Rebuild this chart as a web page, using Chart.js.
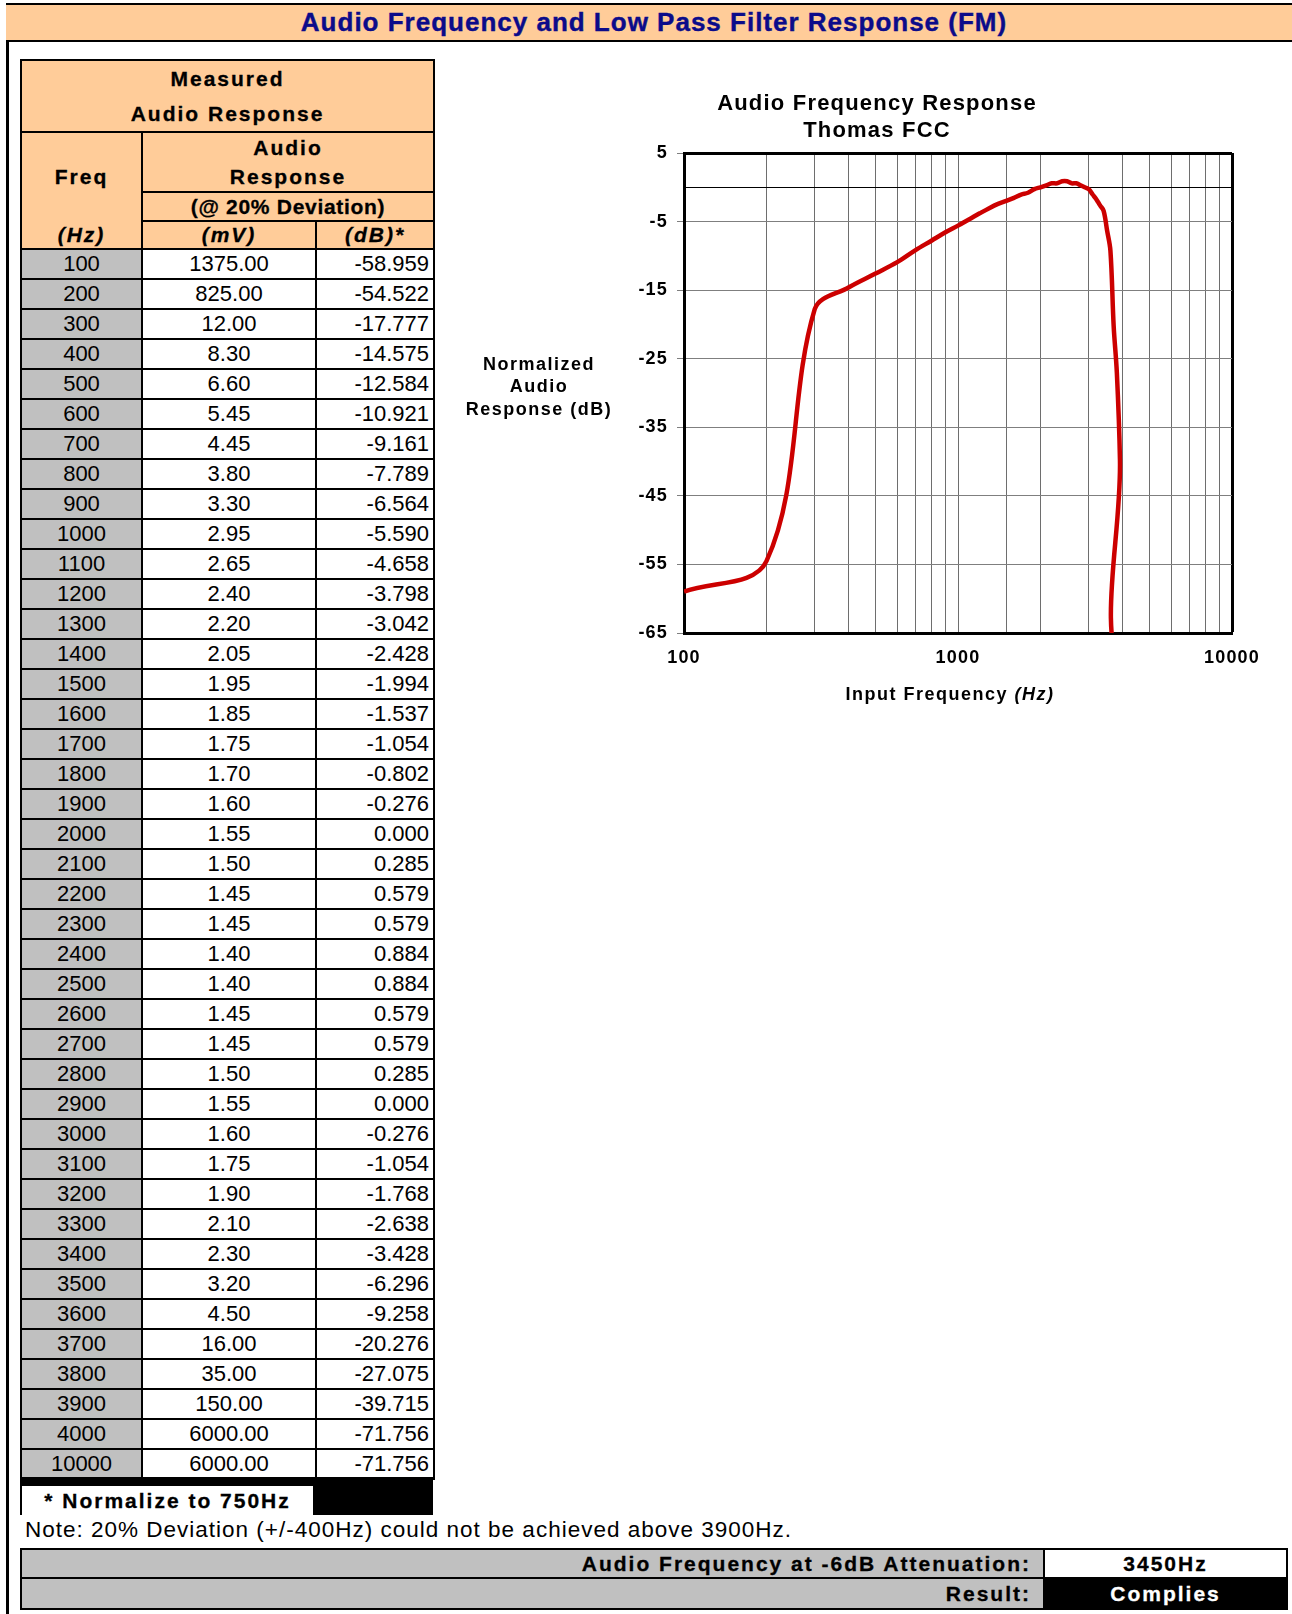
<!DOCTYPE html>
<html>
<head>
<meta charset="utf-8">
<title>Audio Frequency and Low Pass Filter Response (FM)</title>
<script src="https://cdn.jsdelivr.net/npm/chart.js@4.4.1/dist/chart.umd.min.js"></script>
<style>
  body { margin: 0; width: 1292px; height: 1614px; position: relative; overflow: hidden; background: #fff;
         font-family: "Liberation Sans", Arial, sans-serif; color: #000; }
  #frameLeft { position: absolute; left: 6px; top: 4px; width: 2.5px; height: 1620px; background: #000; }
  #pageTitle { position: absolute; left: 6px; top: 3px; width: 1296px; height: 35px; background: #FFCC99;
               border-top: 2px solid #000; border-bottom: 2.5px solid #000; text-align: center;
               font-weight: bold; font-size: 26px; line-height: 35px; letter-spacing: 1px; color: #0b0b8a;
               -webkit-text-stroke: 0.4px #0b0b8a; }
  #dataTable { position: absolute; left: 20px; top: 59px; border-collapse: collapse; table-layout: fixed; }
  #dataTable td { border: 2px solid #000; padding: 0; font-size: 22px; text-align: center; white-space: nowrap; overflow: hidden; }
  #dataTable td.hd { background: #FFCC99; font-weight: bold; font-size: 21px; letter-spacing: 2px; -webkit-text-stroke: 0.3px #000; }
  #dataTable td.unit { font-style: italic; }
  #dataTable td.freq { background: #C0C0C0; }
  #dataTable td.db { text-align: right; padding-right: 4px; }
  #normBand { position: absolute; left: 20px; top: 1477px; width: 413px; height: 38px; background: #000; }
  #normBox { position: absolute; left: 22px; top: 1486px; width: 291px; height: 29px; background: #fff;
             font-weight: bold; font-size: 21px; line-height: 29px; letter-spacing: 2px; text-align: center;
             -webkit-text-stroke: 0.3px #000; }
  #note { position: absolute; left: 25px; top: 1518px; font-size: 22.5px; line-height: 24px; letter-spacing: 1px; white-space: nowrap; }
  #resultTable { position: absolute; left: 20px; top: 1548px; border-collapse: collapse; table-layout: fixed; }
  #resultTable td { border: 2.5px solid #000; padding: 0; font-weight: bold; font-size: 21px; letter-spacing: 2px; white-space: nowrap;
                    -webkit-text-stroke: 0.3px currentColor; }
  #resultTable td.lab { background: #C0C0C0; text-align: right; padding-right: 12px; }
  #resultTable td.val { text-align: center; }
  #resultTable td.pass { background: #000; color: #fff; text-align: center; }
  #chartBox { position: absolute; left: 440px; top: 70px; width: 852px; height: 650px; }
</style>
</head>
<body>
<div id="frameLeft"></div>
<div id="pageTitle">Audio Frequency and Low Pass Filter Response (FM)</div>

<table id="dataTable">
  <colgroup><col style="width:121px"><col style="width:174px"><col style="width:118px"></colgroup>
  <tbody id="dataBody">
    <tr style="height:70px"><td class="hd" colspan="3" style="line-height:35px">Measured<br>Audio Response</td></tr>
    <tr style="height:58px">
      <td class="hd" rowspan="2" style="border-bottom-style:hidden">Freq</td>
      <td class="hd" colspan="2" style="line-height:29px">Audio<br>Response</td>
    </tr>
    <tr style="height:29px"><td class="hd" colspan="2" style="letter-spacing:0.7px">(@ 20% Deviation)</td></tr>
    <tr style="height:28px">
      <td class="hd unit" style="border-top-style:hidden">(Hz)</td>
      <td class="hd unit">(mV)</td>
      <td class="hd unit">(dB)*</td>
    </tr>
  </tbody>
</table>

<div id="normBand"></div>
<div id="normBox">* Normalize to 750Hz</div>
<div id="note">Note: 20% Deviation (+/-400Hz) could not be achieved above 3900Hz.</div>

<table id="resultTable">
  <colgroup><col style="width:1023px"><col style="width:243px"></colgroup>
  <tr style="height:29px"><td class="lab">Audio Frequency at -6dB Attenuation:</td><td class="val">3450Hz</td></tr>
  <tr style="height:31px"><td class="lab">Result:</td><td class="pass">Complies</td></tr>
</table>

<div id="chartBox"><canvas id="responseChart"></canvas></div>

<script>
const freqs = [100, 200, 300, 400, 500, 600, 700, 800, 900, 1000,
  1100, 1200, 1300, 1400, 1500, 1600, 1700, 1800, 1900, 2000,
  2100, 2200, 2300, 2400, 2500, 2600, 2700, 2800, 2900, 3000,
  3100, 3200, 3300, 3400, 3500, 3600, 3700, 3800, 3900, 4000, 10000]

const millivolts = [1375.00, 825.00, 12.00, 8.30, 6.60, 5.45, 4.45, 3.80, 3.30, 2.95,
  2.65, 2.40, 2.20, 2.05, 1.95, 1.85, 1.75, 1.70, 1.60, 1.55,
  1.50, 1.45, 1.45, 1.40, 1.40, 1.45, 1.45, 1.50, 1.55, 1.60,
  1.75, 1.90, 2.10, 2.30, 3.20, 4.50, 16.00, 35.00, 150.00, 6000.00, 6000.00]

const decibels = [-58.959, -54.522, -17.777, -14.575, -12.584, -10.921, -9.161, -7.789, -6.564, -5.590,
  -4.658, -3.798, -3.042, -2.428, -1.994, -1.537, -1.054, -0.802, -0.276, 0.000,
  0.285, 0.579, 0.579, 0.884, 0.884, 0.579, 0.579, 0.285, 0.000, -0.276,
  -1.054, -1.768, -2.638, -3.428, -6.296, -9.258, -20.276, -27.075, -39.715, -71.756, -71.756]

const yTickValues = [-65, -55, -45, -35, -25, -15, -5, 0, 5]
const xLabelValues = [100, 1000, 10000]
const chartTitle = ['Audio Frequency Response', 'Thomas FCC']
const yTitleLines = ['Normalized', 'Audio', 'Response (dB)']
const xTitle = 'Input Frequency '
const xTitleUnit = '(Hz)'

const FONT = '"Liberation Sans", Arial, sans-serif'

// table rows
const body = document.getElementById('dataBody')
freqs.forEach((f, i) => {
  const tr = document.createElement('tr')
  tr.style.height = '30px'
  tr.innerHTML = '<td class="freq">' + f + '</td>' +
    '<td>' + millivolts[i].toFixed(2) + '</td>' +
    '<td class="db">' + decibels[i].toFixed(3) + '</td>'
  body.appendChild(tr)
})

const axisTitles = {
  id: 'axisTitles',
  beforeDraw(chart) {
    chart.ctx.letterSpacing = '1.2px'
  },
  afterDraw(chart) {
    const { ctx, chartArea } = chart
    ctx.save()
    ctx.letterSpacing = '1.5px'
    ctx.fillStyle = '#000'
    ctx.textBaseline = 'middle'
    ctx.textAlign = 'center'
    ctx.font = 'bold 18px ' + FONT
    const midY = (chartArea.top + chartArea.bottom) / 2
    yTitleLines.forEach((line, i) => {
      ctx.fillText(line, chartArea.left - 145, midY - 28 + i * 22.5)
    })

    ctx.textAlign = 'left'
    const w1 = ctx.measureText(xTitle).width
    ctx.font = 'italic bold 18px ' + FONT
    const w2 = ctx.measureText(xTitleUnit).width
    const cx = (chartArea.left + chartArea.right) / 2 - 8
    const ty = chartArea.bottom + 62
    const start = cx - (w1 + w2) / 2
    ctx.font = 'bold 18px ' + FONT
    ctx.fillText(xTitle, start, ty)
    ctx.font = 'italic bold 18px ' + FONT
    ctx.fillText(xTitleUnit, start + w1, ty)
    ctx.restore()
  }
}

const responseChart = new Chart(document.getElementById('responseChart'), {
  type: 'line',
  data: {
    datasets: [{
      label: 'Normalized Audio Response',
      data: freqs.map((f, i) => ({ x: f, y: decibels[i] })),
      borderColor: '#CC0000',
      borderWidth: 4.5,
      pointRadius: 0,
      tension: 0.35,
      fill: false,
      clip: 0
    }]
  },
  options: {
    responsive: true,
    maintainAspectRatio: false,
    animation: false,
    layout: { padding: { left: 82, right: 60, top: 0, bottom: 47 } },
    plugins: {
      legend: { display: false },
      tooltip: { enabled: false },
      title: {
        display: true,
        text: chartTitle,
        color: '#000',
        font: { family: FONT, size: 22, weight: 'bold', lineHeight: 27 / 22 },
        padding: { top: 20.5, bottom: 8.5 }
      }
    },
    scales: {
      x: {
        type: 'logarithmic',
        min: 100,
        max: 10000,
        afterFit(scale) { scale.height = 40 },
        border: { display: true, color: '#000', width: 3 },
        grid: {
          drawTicks: false,
          color: ctx => ctx.tick && ctx.tick.value === 10000 ? '#000' : '#6e6e6e',
          lineWidth: ctx => ctx.tick && ctx.tick.value === 10000 ? 3 : 1
        },
        ticks: {
          autoSkip: false,
          maxRotation: 0,
          padding: 14,
          color: '#000',
          font: { family: FONT, size: 18, weight: 'bold' },
          callback: value => xLabelValues.includes(Math.round(value)) ? String(Math.round(value)) : ''
        }
      },
      y: {
        type: 'linear',
        min: -65,
        max: 5,
        afterFit(scale) { scale.width = 162 },
        afterBuildTicks(scale) { scale.ticks = yTickValues.map(v => ({ value: v })) },
        border: { display: true, color: '#000', width: 3 },
        grid: {
          tickLength: 7,
          tickWidth: 1,
          tickColor: ctx => ctx.tick && ctx.tick.value === 0 ? 'rgba(0,0,0,0)' : '#7f7f7f',
          color: ctx => ctx.tick && (ctx.tick.value === 0 || ctx.tick.value === 5) ? '#000' : '#7f7f7f',
          lineWidth: ctx => ctx.tick && ctx.tick.value === 5 ? 3 : 1
        },
        ticks: {
          padding: 9,
          color: '#000',
          font: { family: FONT, size: 18, weight: 'bold' },
          callback: value => value === 0 ? '' : String(value)
        }
      }
    }
  },
  plugins: [axisTitles]
})
</script>
</body>
</html>
